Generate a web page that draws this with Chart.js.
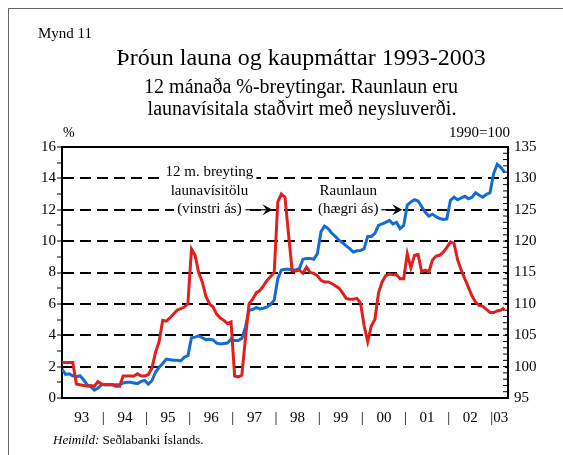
<!DOCTYPE html>
<html>
<head>
<meta charset="utf-8">
<script src="https://cdn.jsdelivr.net/npm/chart.js@4"></script>
<style>
  body { margin: 0; background: #fff; }
  #wrap { position: relative; width: 563px; height: 455px; overflow: hidden; font-family: 'Liberation Serif', 'Times New Roman', serif; color: #000; }
  #frame { position: absolute; left: 8px; top: 8px; width: 600px; height: 500px; border-left: 1.5px solid #666; border-top: 1.5px solid #666; }
  #chart { position: absolute; left: 0; top: 0; }
  .txt { position: absolute; white-space: nowrap; line-height: 1; }
  .center { transform: translateX(-50%); }
</style>
</head>
<body>
<div id="wrap">
  <div id="frame"></div>
  <canvas id="chart" width="563" height="455"></canvas>
  <div class="txt" style="left:38px; top:26px; font-size:15px;">Mynd 11</div>
  <div class="txt center" style="left:301px; top:45px; font-size:24px;">Þróun launa og kaupmáttar 1993-2003</div>
  <div class="txt center" style="left:301px; top:76px; font-size:20px;">12 mánaða %-breytingar. Raunlaun eru</div>
  <div class="txt center" style="left:302px; top:98px; font-size:20px;">launavísitala staðvirt með neysluverði.</div>
  <div class="txt" style="left:63px; top:126px; font-size:14px;">%</div>
  <div class="txt" style="left:449px; top:125px; font-size:15px;">1990=100</div>
  <div class="txt" style="left:53px; top:433px; font-size:13px;"><i>Heimild:</i> Seðlabanki Íslands.</div>
</div>
<script>
// 12 month change in the wage index, % (left axis), monthly Jan 1993 - Apr 2003
const wageChange = [
  2.26, 2.26, 2.26, 2.26, 0.9, 0.85, 0.8, 0.75, 0.8, 0.75, 1.05, 0.9,
  0.85, 0.85, 0.85, 0.75, 0.75, 1.4, 1.4, 1.4, 1.4, 1.55, 1.4, 1.4,
  1.5, 1.9, 2.9, 3.6, 4.95, 4.9, 5.1, 5.35, 5.6, 5.7, 5.8, 6.0,
  9.5, 9.1, 8.0, 7.4, 6.5, 6.0, 5.8, 5.35, 5.1, 4.95, 4.75, 4.85,
  1.4, 1.35, 1.45, 3.8, 6.0, 6.3, 6.7, 6.85, 7.15, 7.5, 7.75, 8.0,
  12.5, 13.0, 12.8, 10.4, 8.1, 8.1, 8.15, 7.95, 8.35, 8.0, 7.95, 7.8,
  7.5, 7.4, 7.4, 7.3, 7.15, 7.0, 6.7, 6.35, 6.3, 6.3, 6.35, 6.05,
  4.6, 3.6, 4.6, 5.0, 6.7, 7.4, 7.8, 7.9, 7.85, 7.85, 7.6, 7.6,
  9.2, 8.3, 9.1, 9.15, 8.05, 8.15, 8.05, 8.8, 9.05, 9.1, 9.3, 9.6,
  9.95, 9.85, 8.8, 8.15, 7.6, 7.05, 6.5, 6.1, 5.9, 5.84, 5.65, 5.45,
  5.45, 5.55, 5.6, 5.75
];

// real wages, 1990=100 (right axis)
const realWages = [
  99.6, 98.75, 98.85, 98.55, 98.4, 98.55, 97.9, 97.1, 96.8, 96.25, 96.6, 97.1,
  97.1, 97.1, 97.1, 97.1, 97.1, 97.4, 97.5, 97.5, 97.4, 97.3, 97.65, 97.8,
  97.2, 97.75, 99.1, 99.9, 100.5, 101.2, 101.1, 101.0, 101.0, 100.9, 101.5, 101.75,
  104.6, 104.7, 104.9, 104.6, 104.3, 104.35, 104.25, 103.75, 103.6, 103.7, 103.75, 104.35,
  104.15, 104.15, 104.5, 106.25, 109.0, 109.1, 109.45, 109.2, 109.3, 109.5, 109.9, 110.6,
  114.0, 115.4, 115.5, 115.5, 115.4, 115.4, 115.65, 117.1, 117.25, 117.25, 117.1, 118.0,
  121.5, 122.4, 122.0, 121.25, 120.75, 120.15, 119.75, 119.25, 118.8, 118.25, 118.45, 118.5,
  118.8, 120.75, 120.75, 121.25, 122.5, 122.75, 123.0, 123.3, 122.75, 123.0, 122.0, 122.5,
  125.75, 126.25, 126.6, 126.4, 125.5, 124.6, 124.0, 124.3, 123.9, 123.6, 123.45, 123.55,
  126.5, 127.0, 126.6, 126.9, 127.15, 126.75, 127.0, 127.7, 127.3, 127.0, 127.45, 127.7,
  130.75, 132.25, 131.75, 131.0
];

// x axis: year labels (placed mid-year) and year separators, in month index units
const yearLabels = ['93', '94', '95', '96', '97', '98', '99', '00', '01', '02', '03'];
const yearPos = [5.5, 17.5, 29.5, 41.5, 53.5, 65.5, 77.5, 89.5, 101.5, 113.5, 122];
const sepPos = [11.5, 23.5, 35.5, 47.5, 59.5, 71.5, 83.5, 95.5, 107.5, 119.5];

// in-chart notes: text lines and where the arrow points (month index, left axis value)
const notes = [
  { lines: ['12 m. breyting', 'launavísitölu', '(vinstri ás)'], x: 58.5, y: 12 },
  { lines: ['Raunlaun', '(hægri ás)'], x: 94.6, y: 12 }
];

const FONT = "'Liberation Serif', 'Times New Roman', serif";
const RED = 'rgb(224, 32, 28)';
const BLUE = 'rgb(18, 108, 212)';

const xTicks = yearPos.map((v, i) => ({ value: v, label: yearLabels[i] }))
  .concat(sepPos.map(v => ({ value: v, label: '|' })))
  .sort((a, b) => a.value - b.value);

function drawArrow(ctx, x0, x1, y) {
  ctx.strokeStyle = '#000';
  ctx.fillStyle = '#000';
  ctx.lineWidth = 1.2;
  ctx.beginPath();
  ctx.moveTo(x0, y);
  ctx.lineTo(x1 - 5, y);
  ctx.stroke();
  ctx.beginPath();
  ctx.moveTo(x1, y);
  ctx.lineTo(x1 - 10, y - 5.5);
  ctx.lineTo(x1 - 6, y);
  ctx.lineTo(x1 - 10, y + 5.5);
  ctx.closePath();
  ctx.fill();
}

const extras = {
  id: 'extras',
  afterDatasetsDraw(chart) {
    const { ctx, chartArea, scales } = chart;
    ctx.save();
    // top frame line
    ctx.strokeStyle = '#000';
    ctx.lineWidth = 2;
    ctx.beginPath();
    ctx.moveTo(chartArea.left - 1, chartArea.top);
    ctx.lineTo(chartArea.right + 1, chartArea.top);
    ctx.stroke();
    // right axis ticks, inside
    ctx.lineWidth = 1;
    scales.y2.ticks.forEach(t => {
      const y = scales.y2.getPixelForValue(t.value);
      ctx.beginPath();
      ctx.moveTo(chartArea.right - 5, y);
      ctx.lineTo(chartArea.right, y);
      ctx.stroke();
    });
    // notes with arrows
    ctx.font = '15px ' + FONT;
    ctx.textAlign = 'center';
    ctx.textBaseline = 'alphabetic';
    notes.forEach((n, k) => {
      const tipX = scales.x.getPixelForValue(n.x);
      const tipY = scales.y.getPixelForValue(n.y);
      const cx = tipX - (k === 0 ? 63 : 54);
      const startX = tipX - (k === 0 ? 27 : 21);
      const lh = 18.3;
      const last = tipY + 3.3;
      n.lines.forEach((line, i) => {
        const by = last - (n.lines.length - 1 - i) * lh;
        const w = ctx.measureText(line).width;
        ctx.fillStyle = '#fff';
        ctx.fillRect(cx - w / 2 - 3, by - 12, w + 6, 16);
        ctx.fillStyle = '#000';
        ctx.fillText(line, cx, by);
      });
      drawArrow(ctx, startX, tipX, tipY);
    });
    ctx.restore();
  }
};

new Chart(document.getElementById('chart'), {
  type: 'line',
  data: {
    datasets: [
      {
        label: 'Launavísitala',
        data: wageChange.map((v, i) => ({ x: i, y: v })),
        borderColor: RED,
        borderWidth: 3,
        pointRadius: 0,
        tension: 0,
        yAxisID: 'y'
      },
      {
        label: 'Raunlaun',
        data: realWages.map((v, i) => ({ x: i, y: v })),
        borderColor: BLUE,
        borderWidth: 3,
        pointRadius: 0,
        tension: 0,
        yAxisID: 'y2'
      }
    ]
  },
  options: {
    responsive: false,
    animation: false,
    layout: { padding: { left: 36, right: 15, top: 147, bottom: 27 } },
    plugins: { legend: { display: false }, tooltip: { enabled: false } },
    scales: {
      x: {
        type: 'linear',
        min: 0,
        max: 124,
        afterBuildTicks: axis => { axis.ticks = xTicks.map(t => ({ value: t.value })); },
        afterFit: axis => { axis.height = 30; },
        grid: { display: false, drawTicks: false },
        border: { display: true, color: '#000', width: 2 },
        ticks: {
          autoSkip: false,
          maxRotation: 0,
          padding: 11,
          color: '#000',
          font: { family: FONT, size: 15 },
          callback: v => (xTicks.find(t => t.value === v) || {}).label || ''
        }
      },
      y: {
        position: 'left',
        min: 0,
        max: 16,
        afterFit: axis => { axis.width = 26; },
        grid: {
          color: c => (c.tick && c.tick.value % 2 === 0 && c.tick.value > 0 && c.tick.value < 16) ? '#000' : 'transparent',
          lineWidth: 2,
          drawTicks: true,
          tickLength: 5,
          tickColor: '#000',
          tickWidth: 1
        },
        border: { display: true, color: '#000', width: 2, dash: [11, 6] },
        ticks: {
          stepSize: 1,
          autoSkip: false,
          padding: 1,
          color: '#000',
          font: { family: FONT, size: 15 },
          callback: v => (v % 2 === 0 ? v : '')
        }
      },
      y2: {
        position: 'right',
        min: 95,
        max: 135,
        afterFit: axis => { axis.width = 40; },
        grid: { drawOnChartArea: false, drawTicks: false },
        border: { display: true, color: '#000', width: 2 },
        ticks: {
          stepSize: 1,
          autoSkip: false,
          padding: 6,
          color: '#000',
          font: { family: FONT, size: 15 },
          callback: v => (v % 5 === 0 ? v : '')
        }
      }
    }
  },
  plugins: [extras]
});
</script>
</body>
</html>
